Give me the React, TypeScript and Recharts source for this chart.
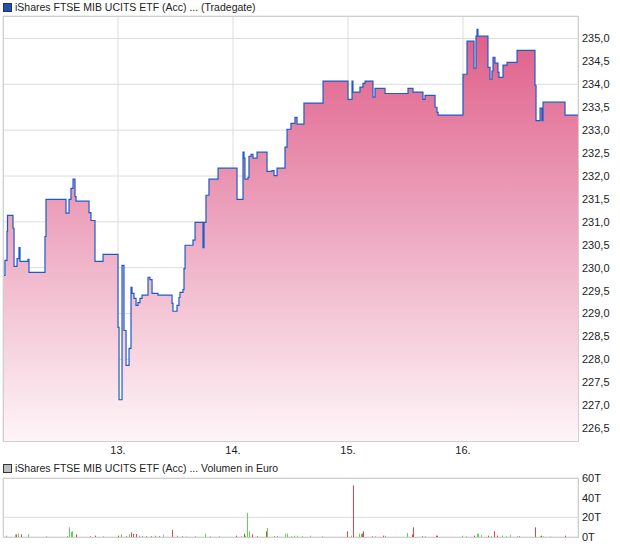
import { ComposedChart, BarChart, Area, Bar, XAxis, YAxis, CartesianGrid } from 'recharts';

// price series, time as day-of-month (fractional), step after
const priceTimes = [
  12.0, 12.017, 12.035, 12.039, 12.087, 12.096, 12.122, 12.139, 12.148, 12.217, 12.226, 12.365, 12.374,
  12.548, 12.574, 12.591, 12.609, 12.626, 12.635, 12.748, 12.765, 12.8, 12.87,
  13.0, 13.009, 13.035, 13.052, 13.07, 13.096, 13.113, 13.122, 13.139, 13.157, 13.174, 13.191, 13.209,
  13.261, 13.278, 13.296, 13.348, 13.47, 13.478, 13.513, 13.53, 13.539, 13.565, 13.574, 13.583, 13.652,
  13.67, 13.739, 13.748, 13.765, 13.791, 13.87,
  14.035, 14.087, 14.096, 14.104, 14.13, 14.139, 14.157, 14.174, 14.209, 14.296, 14.339, 14.357, 14.383,
  14.452, 14.47, 14.504, 14.539, 14.557, 14.617, 14.783,
  15.0, 15.035, 15.043, 15.104, 15.13, 15.148, 15.217, 15.235, 15.322, 15.522, 15.565, 15.652, 15.67,
  15.757, 15.774, 15.783,
  16.0, 16.035, 16.096, 16.113, 16.122, 16.13, 16.217, 16.235, 16.252, 16.261, 16.278, 16.304, 16.313,
  16.348, 16.383, 16.47, 16.626, 16.635, 16.67, 16.687, 16.696, 16.887, 17.0,
];
const prices = [
  229.83, 230.16, 230.79, 231.14, 230.86, 230.03, 230.2, 230.44, 230.14, 230.18, 229.9, 230.68, 231.49,
  231.19, 231.49, 231.73, 231.93, 231.55, 231.45, 231.2, 231.03, 230.14, 230.29,
  228.7, 227.12, 230.05, 228.63, 227.87, 228.24, 229.57, 229.44, 229.33, 229.18, 229.24, 229.33, 229.4,
  229.79, 229.74, 229.44, 229.4, 229.22, 229.05, 229.18, 229.35, 229.46, 229.52, 229.98, 230.49, 230.6,
  230.99, 230.44, 230.99, 231.58, 231.93, 232.17,
  231.49, 232.52, 232.39, 231.93, 231.97, 232.43, 232.47, 232.39, 232.52, 232.1, 232.12, 232.01, 232.17,
  232.63, 233.02, 233.15, 233.28, 233.13, 233.59, 234.07,
  233.67, 234.07, 233.83, 233.94, 234.02, 234.07, 233.72, 233.91, 233.8, 233.91, 233.83, 233.67, 233.76,
  233.5, 233.39, 233.33,
  234.22, 234.94, 234.35, 235.05, 235.2, 235.05, 234.37, 234.11, 234.29, 234.59, 234.46, 234.26, 234.15,
  234.42, 234.48, 234.74, 233.98, 233.21, 233.48, 233.21, 233.61, 233.33, 233.33,
];

// volume (Euro); dir: u = up (green), d = down (red), n = unchanged (grey)
const volTimes = [
  12.035, 12.113, 12.122, 12.139, 12.157, 12.226, 12.383, 12.565, 12.583, 12.6, 12.609, 12.643, 12.765, 12.809, 12.87,
  13.009, 13.035, 13.07, 13.104, 13.122, 13.139, 13.157, 13.191, 13.217, 13.252, 13.296, 13.33, 13.357, 13.4,
  13.478, 13.522, 13.557, 13.6, 13.67, 13.757, 13.809, 13.887,
  14.035, 14.078, 14.104, 14.113, 14.13, 14.148, 14.174, 14.217, 14.296, 14.304, 14.357, 14.391, 14.461, 14.47,
  14.513, 14.539, 14.565, 14.609, 14.67, 14.783,
  15.0, 15.035, 15.052, 15.104, 15.122, 15.13, 15.139, 15.217, 15.243, 15.313, 15.33, 15.522, 15.565, 15.574,
  15.652, 15.67, 15.774, 15.783,
  16.0, 16.035, 16.104, 16.13, 16.139, 16.157, 16.226, 16.252, 16.27, 16.278, 16.304, 16.348, 16.383, 16.417,
  16.47, 16.496, 16.635, 16.678, 16.687, 16.704, 16.757, 16.896,
];
const volumes = [
  1400, 2700, 2700, 3700, 2700, 2700, 700, 700, 9800, 5100, 5800, 2700, 700, 1400, 700,
  1400, 2700, 700, 2700, 4700, 3100, 3100, 1400, 700, 700, 700, 1400, 700, 2700,
  7100, 1400, 700, 700, 700, 3400, 700, 700,
  1400, 700, 3400, 1400, 24400, 5800, 2700, 700, 5800, 9200, 700, 700, 3400, 3400,
  700, 1400, 1400, 700, 1400, 700,
  5800, 1400, 52500, 3400, 3400, 3400, 5800, 700, 700, 1400, 1400, 4100, 2700, 9800,
  700, 700, 1400, 1400,
  1400, 700, 1400, 3400, 3400, 2000, 1400, 700, 1400, 5800, 1400, 1400, 700, 2400,
  700, 700, 9800, 700, 1400, 700, 700, 1400,
];
const volDirs = [
  'u', 'n', 'd', 'u', 'd', 'u', 'u', 'd', 'u', 'u', 'u', 'd', 'd', 'd', 'u',
  'd', 'u', 'd', 'u', 'd', 'd', 'd', 'u', 'd', 'd', 'd', 'u', 'd', 'n',
  'd', 'u', 'd', 'n', 'u', 'u', 'u', 'u',
  'd', 'u', 'd', 'u', 'u', 'u', 'd', 'd', 'd', 'u', 'd', 'd', 'u', 'u',
  'u', 'u', 'n', 'u', 'n', 'u',
  'd', 'u', 'd', 'u', 'u', 'd', 'd', 'd', 'u', 'd', 'u', 'u', 'd', 'd',
  'd', 'u', 'd', 'd',
  'u', 'u', 'd', 'u', 'u', 'n', 'd', 'u', 'u', 'd', 'd', 'u', 'u', 'n',
  'u', 'd', 'd', 'u', 'd', 'u', 'n', 'd',
];

const dayTicks = [13, 14, 15, 16];
const priceTicks = [226.5, 227, 227.5, 228, 228.5, 229, 229.5, 230, 230.5, 231, 231.5, 232, 232.5, 233, 233.5, 234, 234.5, 235];
const volTicks = [0, 20000, 40000, 60000];

const DIR_COLORS: Record<string, string> = { u: '#55d855', d: '#e04848', n: '#b0b0b0' };
const FONT = '"Liberation Sans", Arial, sans-serif';
const TICK = { fill: '#222', fontSize: 11, fontFamily: FONT };

const priceData = priceTimes.map((t, i) => ({ t, p: prices[i] }));
const volData = volTimes.map((t, i) => ({ t, v: volumes[i], dir: volDirs[i] }));

function Title({ top, color, text }: { top: number; color: string; text: string }) {
  return (
    <div style={{ position: 'absolute', left: 3, top, fontFamily: FONT, fontSize: 10.5, color: '#222', whiteSpace: 'nowrap', lineHeight: '12px' }}>
      <span style={{ display: 'inline-block', width: 7, height: 7, background: color, border: '1px solid #333', marginRight: 3, verticalAlign: '-1px' }} />
      {text}
    </div>
  );
}

function Frame({ top, height }: { top: number; height: number }) {
  return (
    <div style={{ position: 'absolute', left: 3, top, width: 576, height, border: '1px solid #cfcfcf', boxSizing: 'border-box', pointerEvents: 'none' }} />
  );
}

// snap the thin volume bars to whole pixels, colour from the trade direction
function VolBar(props: any) {
  const { x, y, width, height, payload } = props;
  if (!height || height <= 0) return null;
  const fill = DIR_COLORS[payload?.dir] ?? DIR_COLORS.n;
  return <rect x={Math.round(x + width / 2 - 0.5)} y={y} width={1} height={height} fill={fill} />;
}

export default function App() {
  return (
    <div style={{ position: 'absolute', left: 0, top: 0, width: 620, height: 546, background: '#fff' }}>
      <Title top={1} color="#1d52b8" text="iShares FTSE MIB UCITS ETF (Acc) ... (Tradegate)" />
      <div style={{ position: 'absolute', left: 0, top: 0 }}>
        <ComposedChart width={620} height={461} data={priceData} margin={{ top: 16, right: 0, bottom: 0, left: 3 }}>
          <defs>
            <linearGradient id="priceFill" x1="0" y1="0" x2="0" y2="1">
              <stop offset="0%" stopColor="#df5d89" />
              <stop offset="50%" stopColor="#eeaac2" />
              <stop offset="100%" stopColor="#fef5f8" />
            </linearGradient>
          </defs>
          <CartesianGrid stroke="#dcdcdc" />
          <XAxis
            type="number"
            dataKey="t"
            domain={[12, 17]}
            ticks={dayTicks}
            tickFormatter={(v: number) => `${v}.`}
            axisLine={false}
            tickLine={false}
            tickSize={0}
            tickMargin={5}
            height={20}
            tick={TICK}
            allowDataOverflow
          />
          <YAxis
            orientation="right"
            domain={[226.22, 235.49]}
            ticks={priceTicks}
            tickFormatter={(v: number) => v.toFixed(1).replace('.', ',')}
            axisLine={false}
            tickLine={false}
            tickSize={0}
            tickMargin={4}
            width={42}
            tick={{ ...TICK, textAnchor: 'start' }}
            allowDataOverflow
          />
          <Area
            type="stepAfter"
            dataKey="p"
            stroke="#1f5bc6"
            strokeWidth={1.2}
            fill="url(#priceFill)"
            fillOpacity={1}
            dot={false}
            activeDot={false}
            isAnimationActive={false}
          />
        </ComposedChart>
      </div>
      <Frame top={16} height={426} />

      <Title top={462} color="#bdbdbd" text="iShares FTSE MIB UCITS ETF (Acc) ... Volumen in Euro" />
      <div style={{ position: 'absolute', left: 0, top: 470 }}>
        <BarChart width={620} height={76} data={volData} margin={{ top: 8, right: 0, bottom: 8, left: 3 }}>
          <CartesianGrid stroke="#dcdcdc" />
          <XAxis
            type="number"
            dataKey="t"
            domain={[12, 17]}
            ticks={dayTicks}
            tick={false}
            axisLine={false}
            tickLine={false}
            height={1}
          />
          <YAxis
            orientation="right"
            domain={[0, 60000]}
            ticks={volTicks}
            tickFormatter={(v: number) => `${v / 1000}T`}
            axisLine={false}
            tickLine={false}
            tickSize={0}
            tickMargin={4}
            width={42}
            tick={{ ...TICK, textAnchor: 'start' }}
          />
          <Bar dataKey="v" barSize={1} shape={VolBar} isAnimationActive={false} />
        </BarChart>
      </div>
      <Frame top={478} height={60} />
    </div>
  );
}
